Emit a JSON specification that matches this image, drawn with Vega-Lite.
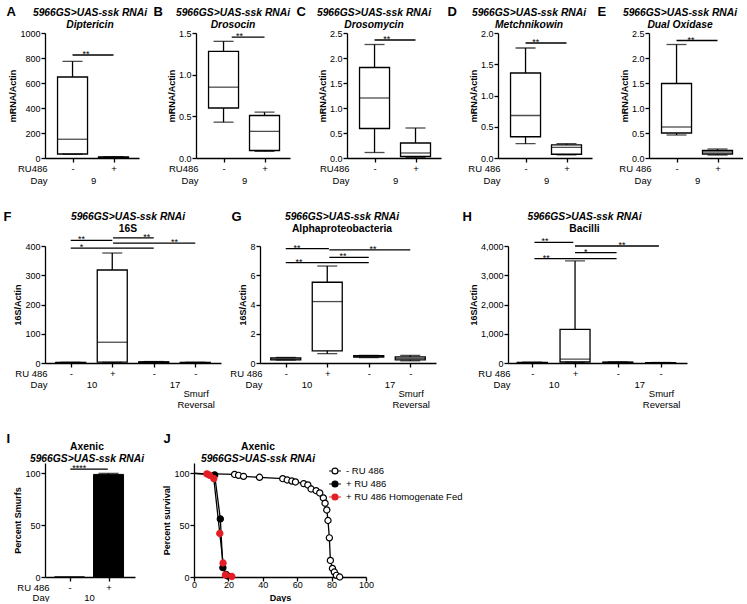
{
"$schema": "https://vega.github.io/schema/vega-lite/v6.json",
"background": "white",
"padding": {"left": 3, "top": 5, "right": 0, "bottom": 0},
"config": {
 "view": {"stroke": null},
 "font": "Liberation Sans",
 "axis": {"grid": false, "domainColor": "black", "domainWidth": 1.3, "tickColor": "black", "tickWidth": 1.3, "tickSize": 4, "labelColor": "black", "labelFont": "Liberation Sans", "labelFontSize": 9, "labelPadding": 1, "titleColor": "black", "titleFont": "Liberation Sans", "titleFontSize": 9, "titleFontWeight": "bold", "titlePadding": 2, "tickCount": 50, "labelOverlap": false},
 "title": {"font": "Liberation Sans", "fontSize": 10.3, "fontWeight": "bold", "fontStyle": "italic", "color": "black", "subtitleFont": "Liberation Sans", "subtitleFontSize": 10.3, "subtitleFontWeight": "bold", "subtitleFontStyle": "italic", "subtitleColor": "black", "subtitlePadding": 1, "frame": "group", "anchor": "middle"},
 "text": {"font": "Liberation Sans", "color": "black"}
},
"datasets": {
 "box": [
  {"p":"A","g":1,"lo":30,"q1":32,"md":150,"q3":648,"hi":773},
  {"p":"A","g":2,"lo":1,"q1":2,"md":4,"q3":8,"hi":11},
  {"p":"B","g":1,"lo":0.43,"q1":0.6,"md":0.85,"q3":1.28,"hi":1.4},
  {"p":"B","g":2,"lo":0.08,"q1":0.09,"md":0.32,"q3":0.51,"hi":0.55},
  {"p":"C","g":1,"lo":0.11,"q1":0.59,"md":1.2,"q3":1.81,"hi":2.27},
  {"p":"C","g":2,"lo":0.01,"q1":0.03,"md":0.1,"q3":0.3,"hi":0.6},
  {"p":"D","g":1,"lo":0.23,"q1":0.34,"md":0.68,"q3":1.36,"hi":1.76},
  {"p":"D","g":2,"lo":0.05,"q1":0.06,"md":0.17,"q3":0.21,"hi":0.23},
  {"p":"E","g":1,"lo":0.46,"q1":0.5,"md":0.62,"q3":1.49,"hi":2.27},
  {"p":"E","g":2,"lo":0.06,"q1":0.08,"md":0.12,"q3":0.15,"hi":0.18},
  {"p":"F","g":1,"lo":0.5,"q1":1,"md":1.5,"q3":2,"hi":2.5},
  {"p":"F","g":2,"lo":2,"q1":3,"md":71,"q3":318,"hi":376},
  {"p":"F","g":3,"lo":1,"q1":2,"md":3,"q3":4,"hi":5},
  {"p":"F","g":4,"lo":0.5,"q1":1,"md":1.5,"q3":2,"hi":2.5},
  {"p":"G","g":1,"lo":0.2,"q1":0.22,"md":0.28,"q3":0.35,"hi":0.38},
  {"p":"G","g":2,"lo":0.64,"q1":0.83,"md":4.2,"q3":5.52,"hi":6.63},
  {"p":"G","g":3,"lo":0.37,"q1":0.4,"md":0.45,"q3":0.5,"hi":0.52},
  {"p":"G","g":4,"lo":0.15,"q1":0.22,"md":0.32,"q3":0.42,"hi":0.52},
  {"p":"H","g":1,"lo":5,"q1":8,"md":12,"q3":18,"hi":25},
  {"p":"H","g":2,"lo":20,"q1":35,"md":130,"q3":1150,"hi":3490},
  {"p":"H","g":3,"lo":10,"q1":15,"md":22,"q3":30,"hi":40},
  {"p":"H","g":4,"lo":3,"q1":5,"md":8,"q3":12,"hi":18}
 ],
 "sig": [
  {"p":"A","x1":1,"x2":2,"y":824,"lx":1.33,"s":"**"},
  {"p":"B","x1":1.2,"x2":2,"y":1.45,"lx":1.39,"s":"**"},
  {"p":"C","x1":1,"x2":2,"y":2.36,"lx":1.3,"s":"**"},
  {"p":"D","x1":1,"x2":2,"y":1.84,"lx":1.25,"s":"**"},
  {"p":"E","x1":1,"x2":2,"y":2.35,"lx":1.35,"s":"**"},
  {"p":"F","x1":1,"x2":2,"y":419,"lx":1.26,"s":"**"},
  {"p":"F","x1":2.02,"x2":3,"y":428,"lx":2.83,"s":"**"},
  {"p":"F","x1":2.02,"x2":4,"y":410,"lx":3.5,"s":"**"},
  {"p":"F","x1":1,"x2":3,"y":393,"lx":1.26,"s":"*"},
  {"p":"G","x1":1,"x2":2.04,"y":7.82,"lx":1.27,"s":"**"},
  {"p":"G","x1":2.05,"x2":4,"y":7.73,"lx":3.1,"s":"**"},
  {"p":"G","x1":2.05,"x2":3,"y":7.22,"lx":2.38,"s":"**"},
  {"p":"G","x1":1,"x2":3,"y":6.86,"lx":1.32,"s":"**"},
  {"p":"H","x1":1.05,"x2":1.96,"y":4125,"lx":1.3,"s":"**"},
  {"p":"H","x1":2,"x2":3.96,"y":4000,"lx":3.1,"s":"**"},
  {"p":"H","x1":2,"x2":2.97,"y":3773,"lx":2.25,"s":"*"},
  {"p":"H","x1":1.05,"x2":2.97,"y":3568,"lx":1.33,"s":"**"},
  {"p":"I","x1":1.02,"x2":1.98,"y":104,"lx":1.25,"s":"****"}
 ],
 "smurf": [
  {"g":1,"v":0,"lo":0,"hi":0},
  {"g":2,"v":99,"lo":98.6,"hi":100}
 ],
 "surv": [
  {"s":"- RU 486","d":0,"v":100},{"s":"- RU 486","d":23.6,"v":99},{"s":"- RU 486","d":25.9,"v":98.1},{"s":"- RU 486","d":28.8,"v":97.1},{"s":"- RU 486","d":38.1,"v":96.2},{"s":"- RU 486","d":51.6,"v":94.9},{"s":"- RU 486","d":54.2,"v":93.6},{"s":"- RU 486","d":56.9,"v":92.6},{"s":"- RU 486","d":59,"v":91.7},{"s":"- RU 486","d":63.8,"v":90.1},{"s":"- RU 486","d":66.2,"v":88.8},{"s":"- RU 486","d":68.1,"v":84.9},{"s":"- RU 486","d":71,"v":83.3},{"s":"- RU 486","d":73.1,"v":81.1},{"s":"- RU 486","d":75.2,"v":76.3},{"s":"- RU 486","d":76.2,"v":71.2},{"s":"- RU 486","d":77.2,"v":64.7},{"s":"- RU 486","d":77.9,"v":54.5},{"s":"- RU 486","d":78.7,"v":37.8},{"s":"- RU 486","d":79.3,"v":16},{"s":"- RU 486","d":80.5,"v":8.3},{"s":"- RU 486","d":81.6,"v":4.8},{"s":"- RU 486","d":82.8,"v":1.6},{"s":"- RU 486","d":84.7,"v":0},
  {"s":"+ RU 486","d":0,"v":100},{"s":"+ RU 486","d":12,"v":98.5},{"s":"+ RU 486","d":15.3,"v":56},{"s":"+ RU 486","d":16.8,"v":9},{"s":"+ RU 486","d":18.6,"v":2.5},{"s":"+ RU 486","d":19.5,"v":1},
  {"s":"+ RU 486 Homogenate Fed","d":0,"v":100},{"s":"+ RU 486 Homogenate Fed","d":7.5,"v":99.5},{"s":"+ RU 486 Homogenate Fed","d":9,"v":98.2},{"s":"+ RU 486 Homogenate Fed","d":11.5,"v":95},{"s":"+ RU 486 Homogenate Fed","d":15,"v":42},{"s":"+ RU 486 Homogenate Fed","d":16.9,"v":13.5},{"s":"+ RU 486 Homogenate Fed","d":18.3,"v":2},{"s":"+ RU 486 Homogenate Fed","d":22,"v":0.5}
 ]
},
"vconcat": [
 {"hconcat": [
  {"width": 94, "height": 125,
   "title": {"text": "5966GS>UAS-ssk RNAi", "subtitle": "Diptericin", "offset": -25, "dx": -2},
   "layer": [
    {"data": {"name": "box"}, "transform": [{"filter": "datum.p == 'A'"}], "mark": {"type": "rule", "color": "black", "strokeWidth": 1.3},
     "encoding": {"x": {"field": "g", "type": "quantitative", "scale": {"domain": [0.45, 2.5], "nice": false, "zero": false},
       "axis": {"values": [0.45, 1, 1.5, 2], "tickCount": 50, "labelExpr": "datum.value < 0.6 ? ['RU486','Day'] : datum.value == 1 ? ['-',''] : datum.value == 2 ? ['+',''] : ['','9']", "labelAlign": {"condition": {"test": "datum.value < 0.6", "value": "right"}, "value": "center"}, "labelOffset": {"condition": {"test": "datum.value < 0.6", "value": -3}, "value": 0}, "tickOpacity": {"condition": {"test": "datum.value == 1 || datum.value == 2", "value": 1}, "value": 0}, "labelOverlap": false, "labelBound": false, "labelFlush": false, "labelPadding": 1, "labelFontSize": 9.5, "labelLineHeight": 12.5, "title": "A", "titleX": -39, "titleY": -143, "titleAlign": "left", "titleBaseline": "alphabetic", "titleAngle": 0, "titleFontSize": 13}},
      "y": {"field": "lo", "type": "quantitative", "scale": {"domain": [0, 1000], "nice": false}, "axis": {"values": [0, 200, 400, 600, 800, 1000], "tickCount": 50, "labelOverlap": false, "format": "d", "title": "mRNA/Actin"}},
      "y2": {"field": "hi"}}},
    {"data": {"name": "box"}, "transform": [{"filter": "datum.p == 'A'"}], "mark": {"type": "bar", "size": 30, "fill": "white", "stroke": "black", "strokeWidth": 1.3},
     "encoding": {"x": {"field": "g", "type": "quantitative"}, "y": {"field": "q1", "type": "quantitative"}, "y2": {"field": "q3"}}},
    {"data": {"name": "box"}, "transform": [{"filter": "datum.p == 'A'"}], "mark": {"type": "tick", "orient": "horizontal", "size": 30, "thickness": 1.3, "color": "black"},
     "encoding": {"x": {"field": "g", "type": "quantitative"}, "y": {"field": "md", "type": "quantitative"}}},
    {"data": {"name": "box"}, "transform": [{"filter": "datum.p == 'A'"}], "mark": {"type": "tick", "orient": "horizontal", "size": 20, "thickness": 1.3, "color": "black"},
     "encoding": {"x": {"field": "g", "type": "quantitative"}, "y": {"field": "lo", "type": "quantitative"}}},
    {"data": {"name": "box"}, "transform": [{"filter": "datum.p == 'A'"}], "mark": {"type": "tick", "orient": "horizontal", "size": 20, "thickness": 1.3, "color": "black"},
     "encoding": {"x": {"field": "g", "type": "quantitative"}, "y": {"field": "hi", "type": "quantitative"}}},
    {"data": {"name": "sig"}, "transform": [{"filter": "datum.p == 'A'"}], "mark": {"type": "rule", "color": "black", "strokeWidth": 1.3},
     "encoding": {"x": {"field": "x1", "type": "quantitative"}, "x2": {"field": "x2"}, "y": {"field": "y", "type": "quantitative"}}},
    {"data": {"name": "sig"}, "transform": [{"filter": "datum.p == 'A'"}], "mark": {"type": "text", "fontSize": 9, "baseline": "alphabetic", "dy": 2, "color": "black"},
     "encoding": {"x": {"field": "lx", "type": "quantitative"}, "y": {"field": "y", "type": "quantitative"}, "text": {"field": "s"}}}
   ]},
  {"width": 94, "height": 125,
   "title": {"text": "5966GS>UAS-ssk RNAi", "subtitle": "Drosocin", "offset": -25, "dx": -10},
   "layer": [
    {"data": {"name": "box"}, "transform": [{"filter": "datum.p == 'B'"}], "mark": {"type": "rule", "color": "black", "strokeWidth": 1.3},
     "encoding": {"x": {"field": "g", "type": "quantitative", "scale": {"domain": [0.45, 2.5], "nice": false, "zero": false},
       "axis": {"values": [0.45, 1, 1.5, 2], "tickCount": 50, "labelExpr": "datum.value < 0.6 ? ['RU486','Day'] : datum.value == 1 ? ['-',''] : datum.value == 2 ? ['+',''] : ['','9']", "labelAlign": {"condition": {"test": "datum.value < 0.6", "value": "right"}, "value": "center"}, "labelOffset": {"condition": {"test": "datum.value < 0.6", "value": -3}, "value": 0}, "tickOpacity": {"condition": {"test": "datum.value == 1 || datum.value == 2", "value": 1}, "value": 0}, "labelOverlap": false, "labelBound": false, "labelFlush": false, "labelPadding": 1, "labelFontSize": 9.5, "labelLineHeight": 12.5, "title": "B", "titleX": -43, "titleY": -143, "titleAlign": "left", "titleBaseline": "alphabetic", "titleAngle": 0, "titleFontSize": 13}},
      "y": {"field": "lo", "type": "quantitative", "scale": {"domain": [0, 1.5], "nice": false}, "axis": {"values": [0, 0.5, 1, 1.5], "tickCount": 50, "labelOverlap": false, "format": ".1f", "title": "mRNA/Actin"}},
      "y2": {"field": "hi"}}},
    {"data": {"name": "box"}, "transform": [{"filter": "datum.p == 'B'"}], "mark": {"type": "bar", "size": 30, "fill": "white", "stroke": "black", "strokeWidth": 1.3},
     "encoding": {"x": {"field": "g", "type": "quantitative"}, "y": {"field": "q1", "type": "quantitative"}, "y2": {"field": "q3"}}},
    {"data": {"name": "box"}, "transform": [{"filter": "datum.p == 'B'"}], "mark": {"type": "tick", "orient": "horizontal", "size": 30, "thickness": 1.3, "color": "black"},
     "encoding": {"x": {"field": "g", "type": "quantitative"}, "y": {"field": "md", "type": "quantitative"}}},
    {"data": {"name": "box"}, "transform": [{"filter": "datum.p == 'B'"}], "mark": {"type": "tick", "orient": "horizontal", "size": 20, "thickness": 1.3, "color": "black"},
     "encoding": {"x": {"field": "g", "type": "quantitative"}, "y": {"field": "lo", "type": "quantitative"}}},
    {"data": {"name": "box"}, "transform": [{"filter": "datum.p == 'B'"}], "mark": {"type": "tick", "orient": "horizontal", "size": 20, "thickness": 1.3, "color": "black"},
     "encoding": {"x": {"field": "g", "type": "quantitative"}, "y": {"field": "hi", "type": "quantitative"}}},
    {"data": {"name": "sig"}, "transform": [{"filter": "datum.p == 'B'"}], "mark": {"type": "rule", "color": "black", "strokeWidth": 1.3},
     "encoding": {"x": {"field": "x1", "type": "quantitative"}, "x2": {"field": "x2"}, "y": {"field": "y", "type": "quantitative"}}},
    {"data": {"name": "sig"}, "transform": [{"filter": "datum.p == 'B'"}], "mark": {"type": "text", "fontSize": 9, "baseline": "alphabetic", "dy": 2, "color": "black"},
     "encoding": {"x": {"field": "lx", "type": "quantitative"}, "y": {"field": "y", "type": "quantitative"}, "text": {"field": "s"}}}
   ]},
  {"width": 94, "height": 125,
   "title": {"text": "5966GS>UAS-ssk RNAi", "subtitle": "Drosomycin", "offset": -25, "dx": -20},
   "layer": [
    {"data": {"name": "box"}, "transform": [{"filter": "datum.p == 'C'"}], "mark": {"type": "rule", "color": "black", "strokeWidth": 1.3},
     "encoding": {"x": {"field": "g", "type": "quantitative", "scale": {"domain": [0.45, 2.5], "nice": false, "zero": false},
       "axis": {"values": [0.45, 1, 1.5, 2], "tickCount": 50, "labelExpr": "datum.value < 0.6 ? ['RU486','Day'] : datum.value == 1 ? ['-',''] : datum.value == 2 ? ['+',''] : ['','9']", "labelAlign": {"condition": {"test": "datum.value < 0.6", "value": "right"}, "value": "center"}, "labelOffset": {"condition": {"test": "datum.value < 0.6", "value": -3}, "value": 0}, "tickOpacity": {"condition": {"test": "datum.value == 1 || datum.value == 2", "value": 1}, "value": 0}, "labelOverlap": false, "labelBound": false, "labelFlush": false, "labelPadding": 1, "labelFontSize": 9.5, "labelLineHeight": 12.5, "title": "C", "titleX": -51, "titleY": -143, "titleAlign": "left", "titleBaseline": "alphabetic", "titleAngle": 0, "titleFontSize": 13}},
      "y": {"field": "lo", "type": "quantitative", "scale": {"domain": [0, 2.5], "nice": false}, "axis": {"values": [0, 0.5, 1, 1.5, 2, 2.5], "tickCount": 50, "labelOverlap": false, "format": ".1f", "title": "mRNA/Actin"}},
      "y2": {"field": "hi"}}},
    {"data": {"name": "box"}, "transform": [{"filter": "datum.p == 'C'"}], "mark": {"type": "bar", "size": 30, "fill": "white", "stroke": "black", "strokeWidth": 1.3},
     "encoding": {"x": {"field": "g", "type": "quantitative"}, "y": {"field": "q1", "type": "quantitative"}, "y2": {"field": "q3"}}},
    {"data": {"name": "box"}, "transform": [{"filter": "datum.p == 'C'"}], "mark": {"type": "tick", "orient": "horizontal", "size": 30, "thickness": 1.3, "color": "black"},
     "encoding": {"x": {"field": "g", "type": "quantitative"}, "y": {"field": "md", "type": "quantitative"}}},
    {"data": {"name": "box"}, "transform": [{"filter": "datum.p == 'C'"}], "mark": {"type": "tick", "orient": "horizontal", "size": 20, "thickness": 1.3, "color": "black"},
     "encoding": {"x": {"field": "g", "type": "quantitative"}, "y": {"field": "lo", "type": "quantitative"}}},
    {"data": {"name": "box"}, "transform": [{"filter": "datum.p == 'C'"}], "mark": {"type": "tick", "orient": "horizontal", "size": 20, "thickness": 1.3, "color": "black"},
     "encoding": {"x": {"field": "g", "type": "quantitative"}, "y": {"field": "hi", "type": "quantitative"}}},
    {"data": {"name": "sig"}, "transform": [{"filter": "datum.p == 'C'"}], "mark": {"type": "rule", "color": "black", "strokeWidth": 1.3},
     "encoding": {"x": {"field": "x1", "type": "quantitative"}, "x2": {"field": "x2"}, "y": {"field": "y", "type": "quantitative"}}},
    {"data": {"name": "sig"}, "transform": [{"filter": "datum.p == 'C'"}], "mark": {"type": "text", "fontSize": 9, "baseline": "alphabetic", "dy": 2, "color": "black"},
     "encoding": {"x": {"field": "lx", "type": "quantitative"}, "y": {"field": "y", "type": "quantitative"}, "text": {"field": "s"}}}
   ]},
  {"width": 94, "height": 125,
   "title": {"text": "5966GS>UAS-ssk RNAi", "subtitle": "Metchnikowin", "offset": -25, "dx": -16},
   "layer": [
    {"data": {"name": "box"}, "transform": [{"filter": "datum.p == 'D'"}], "mark": {"type": "rule", "color": "black", "strokeWidth": 1.3},
     "encoding": {"x": {"field": "g", "type": "quantitative", "scale": {"domain": [0.45, 2.5], "nice": false, "zero": false},
       "axis": {"values": [0.45, 1, 1.5, 2], "tickCount": 50, "labelExpr": "datum.value < 0.6 ? ['RU 486','Day'] : datum.value == 1 ? ['-',''] : datum.value == 2 ? ['+',''] : ['','9']", "labelAlign": {"condition": {"test": "datum.value < 0.6", "value": "right"}, "value": "center"}, "labelOffset": {"condition": {"test": "datum.value < 0.6", "value": -3}, "value": 0}, "tickOpacity": {"condition": {"test": "datum.value == 1 || datum.value == 2", "value": 1}, "value": 0}, "labelOverlap": false, "labelBound": false, "labelFlush": false, "labelPadding": 1, "labelFontSize": 9.5, "labelLineHeight": 12.5, "title": "D", "titleX": -51, "titleY": -143, "titleAlign": "left", "titleBaseline": "alphabetic", "titleAngle": 0, "titleFontSize": 13}},
      "y": {"field": "lo", "type": "quantitative", "scale": {"domain": [0, 2], "nice": false}, "axis": {"values": [0, 0.5, 1, 1.5, 2], "tickCount": 50, "labelOverlap": false, "format": ".1f", "title": "mRNA/Actin"}},
      "y2": {"field": "hi"}}},
    {"data": {"name": "box"}, "transform": [{"filter": "datum.p == 'D'"}], "mark": {"type": "bar", "size": 30, "fill": "white", "stroke": "black", "strokeWidth": 1.3},
     "encoding": {"x": {"field": "g", "type": "quantitative"}, "y": {"field": "q1", "type": "quantitative"}, "y2": {"field": "q3"}}},
    {"data": {"name": "box"}, "transform": [{"filter": "datum.p == 'D'"}], "mark": {"type": "tick", "orient": "horizontal", "size": 30, "thickness": 1.3, "color": "black"},
     "encoding": {"x": {"field": "g", "type": "quantitative"}, "y": {"field": "md", "type": "quantitative"}}},
    {"data": {"name": "box"}, "transform": [{"filter": "datum.p == 'D'"}], "mark": {"type": "tick", "orient": "horizontal", "size": 20, "thickness": 1.3, "color": "black"},
     "encoding": {"x": {"field": "g", "type": "quantitative"}, "y": {"field": "lo", "type": "quantitative"}}},
    {"data": {"name": "box"}, "transform": [{"filter": "datum.p == 'D'"}], "mark": {"type": "tick", "orient": "horizontal", "size": 20, "thickness": 1.3, "color": "black"},
     "encoding": {"x": {"field": "g", "type": "quantitative"}, "y": {"field": "hi", "type": "quantitative"}}},
    {"data": {"name": "sig"}, "transform": [{"filter": "datum.p == 'D'"}], "mark": {"type": "rule", "color": "black", "strokeWidth": 1.3},
     "encoding": {"x": {"field": "x1", "type": "quantitative"}, "x2": {"field": "x2"}, "y": {"field": "y", "type": "quantitative"}}},
    {"data": {"name": "sig"}, "transform": [{"filter": "datum.p == 'D'"}], "mark": {"type": "text", "fontSize": 9, "baseline": "alphabetic", "dy": 2, "color": "black"},
     "encoding": {"x": {"field": "lx", "type": "quantitative"}, "y": {"field": "y", "type": "quantitative"}, "text": {"field": "s"}}}
   ]},
  {"width": 94, "height": 125,
   "title": {"text": "5966GS>UAS-ssk RNAi", "subtitle": "Dual Oxidase", "offset": -25, "dx": -16},
   "layer": [
    {"data": {"name": "box"}, "transform": [{"filter": "datum.p == 'E'"}], "mark": {"type": "rule", "color": "black", "strokeWidth": 1.3},
     "encoding": {"x": {"field": "g", "type": "quantitative", "scale": {"domain": [0.45, 2.5], "nice": false, "zero": false},
       "axis": {"values": [0.45, 1, 1.5, 2], "tickCount": 50, "labelExpr": "datum.value < 0.6 ? ['RU 486','Day'] : datum.value == 1 ? ['-',''] : datum.value == 2 ? ['+',''] : ['','9']", "labelAlign": {"condition": {"test": "datum.value < 0.6", "value": "right"}, "value": "center"}, "labelOffset": {"condition": {"test": "datum.value < 0.6", "value": -3}, "value": 0}, "tickOpacity": {"condition": {"test": "datum.value == 1 || datum.value == 2", "value": 1}, "value": 0}, "labelOverlap": false, "labelBound": false, "labelFlush": false, "labelPadding": 1, "labelFontSize": 9.5, "labelLineHeight": 12.5, "title": "E", "titleX": -52, "titleY": -143, "titleAlign": "left", "titleBaseline": "alphabetic", "titleAngle": 0, "titleFontSize": 13}},
      "y": {"field": "lo", "type": "quantitative", "scale": {"domain": [0, 2.5], "nice": false}, "axis": {"values": [0, 0.5, 1, 1.5, 2, 2.5], "tickCount": 50, "labelOverlap": false, "format": ".1f", "title": "mRNA/Actin"}},
      "y2": {"field": "hi"}}},
    {"data": {"name": "box"}, "transform": [{"filter": "datum.p == 'E'"}], "mark": {"type": "bar", "size": 30, "fill": "white", "stroke": "black", "strokeWidth": 1.3},
     "encoding": {"x": {"field": "g", "type": "quantitative"}, "y": {"field": "q1", "type": "quantitative"}, "y2": {"field": "q3"}}},
    {"data": {"name": "box"}, "transform": [{"filter": "datum.p == 'E'"}], "mark": {"type": "tick", "orient": "horizontal", "size": 30, "thickness": 1.3, "color": "black"},
     "encoding": {"x": {"field": "g", "type": "quantitative"}, "y": {"field": "md", "type": "quantitative"}}},
    {"data": {"name": "box"}, "transform": [{"filter": "datum.p == 'E'"}], "mark": {"type": "tick", "orient": "horizontal", "size": 20, "thickness": 1.3, "color": "black"},
     "encoding": {"x": {"field": "g", "type": "quantitative"}, "y": {"field": "lo", "type": "quantitative"}}},
    {"data": {"name": "box"}, "transform": [{"filter": "datum.p == 'E'"}], "mark": {"type": "tick", "orient": "horizontal", "size": 20, "thickness": 1.3, "color": "black"},
     "encoding": {"x": {"field": "g", "type": "quantitative"}, "y": {"field": "hi", "type": "quantitative"}}},
    {"data": {"name": "sig"}, "transform": [{"filter": "datum.p == 'E'"}], "mark": {"type": "rule", "color": "black", "strokeWidth": 1.3},
     "encoding": {"x": {"field": "x1", "type": "quantitative"}, "x2": {"field": "x2"}, "y": {"field": "y", "type": "quantitative"}}},
    {"data": {"name": "sig"}, "transform": [{"filter": "datum.p == 'E'"}], "mark": {"type": "text", "fontSize": 9, "baseline": "alphabetic", "dy": 2, "color": "black"},
     "encoding": {"x": {"field": "lx", "type": "quantitative"}, "y": {"field": "y", "type": "quantitative"}, "text": {"field": "s"}}}
   ]}
 ], "spacing": 57, "bounds": "flush"},
 {"vconcat": [
 {"hconcat": [
  {"width": 176, "height": 117,
   "title": {"text": "5966GS>UAS-ssk RNAi", "subtitle": "16S", "subtitleFontStyle": "normal", "offset": -24, "dx": -5},
   "layer": [
    {"data": {"name": "box"}, "transform": [{"filter": "datum.p == 'F'"}], "mark": {"type": "rule", "color": "black", "strokeWidth": 1.3},
     "encoding": {"x": {"field": "g", "type": "quantitative", "scale": {"domain": [0.5, 4.5], "nice": false, "zero": false},
       "axis": {"values": [0.5, 1, 1.5, 2, 3, 3.5, 4, 4.01], "tickCount": 50, "labelExpr": "datum.value < 0.6 ? ['RU 486','Day'] : datum.value == 1.5 ? ['','10'] : datum.value == 3.5 ? ['','17'] : datum.value == 2 ? '+' : datum.value > 4 ? ['Smurf','Reversal'] : '-'", "labelAlign": {"condition": {"test": "datum.value < 0.6", "value": "right"}, "value": "center"}, "labelOffset": {"condition": {"test": "datum.value < 0.6", "value": -3}, "value": 0}, "labelPadding": {"condition": {"test": "datum.value > 4", "value": 21}, "value": 1}, "tickOpacity": {"condition": {"test": "datum.value == 1 || datum.value == 2 || datum.value == 3 || datum.value == 4", "value": 1}, "value": 0}, "labelOverlap": false, "labelBound": false, "labelFlush": false, "labelFontSize": 9.5, "labelLineHeight": 11, "title": "F", "titleX": -42, "titleY": -143, "titleAlign": "left", "titleBaseline": "alphabetic", "titleAngle": 0, "titleFontSize": 13}},
      "y": {"field": "lo", "type": "quantitative", "scale": {"domain": [0, 400], "nice": false}, "axis": {"values": [0, 100, 200, 300, 400], "tickCount": 50, "labelOverlap": false, "format": "d", "title": "16S/Actin"}},
      "y2": {"field": "hi"}}},
    {"data": {"name": "box"}, "transform": [{"filter": "datum.p == 'F'"}], "mark": {"type": "bar", "size": 30, "fill": "white", "stroke": "black", "strokeWidth": 1.3},
     "encoding": {"x": {"field": "g", "type": "quantitative"}, "y": {"field": "q1", "type": "quantitative"}, "y2": {"field": "q3"}}},
    {"data": {"name": "box"}, "transform": [{"filter": "datum.p == 'F'"}], "mark": {"type": "tick", "orient": "horizontal", "size": 30, "thickness": 1.3, "color": "black"},
     "encoding": {"x": {"field": "g", "type": "quantitative"}, "y": {"field": "md", "type": "quantitative"}}},
    {"data": {"name": "box"}, "transform": [{"filter": "datum.p == 'F'"}], "mark": {"type": "tick", "orient": "horizontal", "size": 20, "thickness": 1.3, "color": "black"},
     "encoding": {"x": {"field": "g", "type": "quantitative"}, "y": {"field": "lo", "type": "quantitative"}}},
    {"data": {"name": "box"}, "transform": [{"filter": "datum.p == 'F'"}], "mark": {"type": "tick", "orient": "horizontal", "size": 20, "thickness": 1.3, "color": "black"},
     "encoding": {"x": {"field": "g", "type": "quantitative"}, "y": {"field": "hi", "type": "quantitative"}}},
    {"data": {"name": "sig"}, "transform": [{"filter": "datum.p == 'F'"}], "mark": {"type": "rule", "color": "black", "strokeWidth": 1.3},
     "encoding": {"x": {"field": "x1", "type": "quantitative"}, "x2": {"field": "x2"}, "y": {"field": "y", "type": "quantitative"}}},
    {"data": {"name": "sig"}, "transform": [{"filter": "datum.p == 'F'"}], "mark": {"type": "text", "fontSize": 9, "baseline": "alphabetic", "dy": 2, "color": "black"},
     "encoding": {"x": {"field": "lx", "type": "quantitative"}, "y": {"field": "y", "type": "quantitative"}, "text": {"field": "s"}}}
   ]},
  {"width": 1, "height": 117, "data": {"values": [{"a": 1}]}, "mark": {"type": "point", "opacity": 0}, "encoding": {}},
  {"width": 176, "height": 117,
   "title": {"text": "5966GS>UAS-ssk RNAi", "subtitle": "Alphaproteobacteria", "subtitleFontStyle": "normal", "offset": -24, "dx": -6},
   "layer": [
    {"data": {"name": "box"}, "transform": [{"filter": "datum.p == 'G'"}], "mark": {"type": "rule", "color": "black", "strokeWidth": 1.3},
     "encoding": {"x": {"field": "g", "type": "quantitative", "scale": {"domain": [0.5, 4.5], "nice": false, "zero": false},
       "axis": {"values": [0.5, 1, 1.5, 2, 3, 3.5, 4, 4.01], "tickCount": 50, "labelExpr": "datum.value < 0.6 ? ['RU 486','Day'] : datum.value == 1.5 ? ['','10'] : datum.value == 3.5 ? ['','17'] : datum.value == 2 ? '+' : datum.value > 4 ? ['Smurf','Reversal'] : '-'", "labelAlign": {"condition": {"test": "datum.value < 0.6", "value": "right"}, "value": "center"}, "labelOffset": {"condition": {"test": "datum.value < 0.6", "value": -3}, "value": 0}, "labelPadding": {"condition": {"test": "datum.value > 4", "value": 21}, "value": 1}, "tickOpacity": {"condition": {"test": "datum.value == 1 || datum.value == 2 || datum.value == 3 || datum.value == 4", "value": 1}, "value": 0}, "labelOverlap": false, "labelBound": false, "labelFlush": false, "labelFontSize": 9.5, "labelLineHeight": 11, "title": "G", "titleX": -29, "titleY": -143, "titleAlign": "left", "titleBaseline": "alphabetic", "titleAngle": 0, "titleFontSize": 13}},
      "y": {"field": "lo", "type": "quantitative", "scale": {"domain": [0, 8], "nice": false}, "axis": {"values": [0, 2, 4, 6, 8], "tickCount": 50, "labelOverlap": false, "format": "d", "title": "16S/Actin"}},
      "y2": {"field": "hi"}}},
    {"data": {"name": "box"}, "transform": [{"filter": "datum.p == 'G'"}], "mark": {"type": "bar", "size": 30, "fill": "white", "stroke": "black", "strokeWidth": 1.3},
     "encoding": {"x": {"field": "g", "type": "quantitative"}, "y": {"field": "q1", "type": "quantitative"}, "y2": {"field": "q3"}}},
    {"data": {"name": "box"}, "transform": [{"filter": "datum.p == 'G'"}], "mark": {"type": "tick", "orient": "horizontal", "size": 30, "thickness": 1.3, "color": "black"},
     "encoding": {"x": {"field": "g", "type": "quantitative"}, "y": {"field": "md", "type": "quantitative"}}},
    {"data": {"name": "box"}, "transform": [{"filter": "datum.p == 'G'"}], "mark": {"type": "tick", "orient": "horizontal", "size": 20, "thickness": 1.3, "color": "black"},
     "encoding": {"x": {"field": "g", "type": "quantitative"}, "y": {"field": "lo", "type": "quantitative"}}},
    {"data": {"name": "box"}, "transform": [{"filter": "datum.p == 'G'"}], "mark": {"type": "tick", "orient": "horizontal", "size": 20, "thickness": 1.3, "color": "black"},
     "encoding": {"x": {"field": "g", "type": "quantitative"}, "y": {"field": "hi", "type": "quantitative"}}},
    {"data": {"name": "sig"}, "transform": [{"filter": "datum.p == 'G'"}], "mark": {"type": "rule", "color": "black", "strokeWidth": 1.3},
     "encoding": {"x": {"field": "x1", "type": "quantitative"}, "x2": {"field": "x2"}, "y": {"field": "y", "type": "quantitative"}}},
    {"data": {"name": "sig"}, "transform": [{"filter": "datum.p == 'G'"}], "mark": {"type": "text", "fontSize": 9, "baseline": "alphabetic", "dy": 2, "color": "black"},
     "encoding": {"x": {"field": "lx", "type": "quantitative"}, "y": {"field": "y", "type": "quantitative"}, "text": {"field": "s"}}}
   ]},
  {"width": 34, "height": 117, "data": {"values": [{"a": 1}]}, "mark": {"type": "point", "opacity": 0}, "encoding": {}},
  {"width": 179, "height": 117,
   "title": {"text": "5966GS>UAS-ssk RNAi", "subtitle": "Bacilli", "subtitleFontStyle": "normal", "offset": -24, "dx": -13},
   "layer": [
    {"data": {"name": "box"}, "transform": [{"filter": "datum.p == 'H'"}], "mark": {"type": "rule", "color": "black", "strokeWidth": 1.3},
     "encoding": {"x": {"field": "g", "type": "quantitative", "scale": {"domain": [0.55, 4.5], "nice": false, "zero": false},
       "axis": {"values": [0.55, 1, 1.5, 2, 3, 3.5, 4, 4.01], "tickCount": 50, "labelExpr": "datum.value < 0.6 ? ['RU 486','Day'] : datum.value == 1.5 ? ['','10'] : datum.value == 3.5 ? ['','17'] : datum.value == 2 ? '+' : datum.value > 4 ? ['Smurf','Reversal'] : '-'", "labelAlign": {"condition": {"test": "datum.value < 0.6", "value": "right"}, "value": "center"}, "labelOffset": {"condition": {"test": "datum.value < 0.6", "value": -3}, "value": 0}, "labelPadding": {"condition": {"test": "datum.value > 4", "value": 21}, "value": 1}, "tickOpacity": {"condition": {"test": "datum.value == 1 || datum.value == 2 || datum.value == 3 || datum.value == 4", "value": 1}, "value": 0}, "labelOverlap": false, "labelBound": false, "labelFlush": false, "labelFontSize": 9.5, "labelLineHeight": 11, "title": "H", "titleX": -46, "titleY": -143, "titleAlign": "left", "titleBaseline": "alphabetic", "titleAngle": 0, "titleFontSize": 13}},
      "y": {"field": "lo", "type": "quantitative", "scale": {"domain": [0, 4000], "nice": false}, "axis": {"values": [0, 1000, 2000, 3000, 4000], "tickCount": 50, "labelOverlap": false, "format": ",.0f", "title": "16S/Actin"}},
      "y2": {"field": "hi"}}},
    {"data": {"name": "box"}, "transform": [{"filter": "datum.p == 'H'"}], "mark": {"type": "bar", "size": 30, "fill": "white", "stroke": "black", "strokeWidth": 1.3},
     "encoding": {"x": {"field": "g", "type": "quantitative"}, "y": {"field": "q1", "type": "quantitative"}, "y2": {"field": "q3"}}},
    {"data": {"name": "box"}, "transform": [{"filter": "datum.p == 'H'"}], "mark": {"type": "tick", "orient": "horizontal", "size": 30, "thickness": 1.3, "color": "black"},
     "encoding": {"x": {"field": "g", "type": "quantitative"}, "y": {"field": "md", "type": "quantitative"}}},
    {"data": {"name": "box"}, "transform": [{"filter": "datum.p == 'H'"}], "mark": {"type": "tick", "orient": "horizontal", "size": 20, "thickness": 1.3, "color": "black"},
     "encoding": {"x": {"field": "g", "type": "quantitative"}, "y": {"field": "lo", "type": "quantitative"}}},
    {"data": {"name": "box"}, "transform": [{"filter": "datum.p == 'H'"}], "mark": {"type": "tick", "orient": "horizontal", "size": 20, "thickness": 1.3, "color": "black"},
     "encoding": {"x": {"field": "g", "type": "quantitative"}, "y": {"field": "hi", "type": "quantitative"}}},
    {"data": {"name": "sig"}, "transform": [{"filter": "datum.p == 'H'"}], "mark": {"type": "rule", "color": "black", "strokeWidth": 1.3},
     "encoding": {"x": {"field": "x1", "type": "quantitative"}, "x2": {"field": "x2"}, "y": {"field": "y", "type": "quantitative"}}},
    {"data": {"name": "sig"}, "transform": [{"filter": "datum.p == 'H'"}], "mark": {"type": "text", "fontSize": 9, "baseline": "alphabetic", "dy": 2, "color": "black"},
     "encoding": {"x": {"field": "lx", "type": "quantitative"}, "y": {"field": "y", "type": "quantitative"}, "text": {"field": "s"}}}
   ]}
 ], "spacing": 19, "bounds": "flush"},
 {"hconcat": [
  {"width": 90, "height": 114,
   "title": {"text": "Axenic", "subtitle": "5966GS>UAS-ssk RNAi", "fontStyle": "normal", "offset": -32, "dx": -3},
   "layer": [
    {"data": {"name": "smurf"}, "mark": {"type": "rule", "color": "black", "strokeWidth": 1.3},
     "encoding": {"x": {"field": "g", "type": "quantitative", "scale": {"domain": [0.5, 2.55], "nice": false, "zero": false},
       "axis": {"values": [0.5, 1, 1.5, 2], "tickCount": 50, "labelExpr": "datum.value < 0.6 ? ['RU 486','Day'] : datum.value == 1 ? ['-',''] : datum.value == 2 ? ['+',''] : ['','10']", "labelAlign": {"condition": {"test": "datum.value < 0.6", "value": "right"}, "value": "center"}, "labelOffset": {"condition": {"test": "datum.value < 0.6", "value": -1}, "value": 0}, "tickOpacity": {"condition": {"test": "datum.value == 1 || datum.value == 2", "value": 1}, "value": 0}, "labelOverlap": false, "labelBound": false, "labelFlush": false, "labelPadding": 1, "labelFontSize": 9.5, "labelLineHeight": 10.5, "title": "I", "titleX": -39, "titleY": -135, "titleAlign": "left", "titleBaseline": "alphabetic", "titleAngle": 0, "titleFontSize": 13}},
      "y": {"field": "lo", "type": "quantitative", "scale": {"domain": [0, 110], "nice": false}, "axis": {"values": [0, 50, 100], "tickCount": 50, "labelOverlap": false, "format": "d", "title": "Percent Smurfs"}},
      "y2": {"field": "hi"}}},
    {"data": {"name": "smurf"}, "mark": {"type": "bar", "size": 30, "fill": "black", "stroke": "black", "strokeWidth": 1},
     "encoding": {"x": {"field": "g", "type": "quantitative"}, "y": {"field": "v", "type": "quantitative"}}},
    {"data": {"name": "smurf"}, "transform": [{"filter": "datum.v > 0"}], "mark": {"type": "tick", "orient": "horizontal", "size": 20, "thickness": 1.3, "color": "black"},
     "encoding": {"x": {"field": "g", "type": "quantitative"}, "y": {"field": "hi", "type": "quantitative"}}},
    {"data": {"name": "sig"}, "transform": [{"filter": "datum.p == 'I'"}], "mark": {"type": "rule", "color": "black", "strokeWidth": 1.3},
     "encoding": {"x": {"field": "x1", "type": "quantitative"}, "x2": {"field": "x2"}, "y": {"field": "y", "type": "quantitative"}}},
    {"data": {"name": "sig"}, "transform": [{"filter": "datum.p == 'I'"}], "mark": {"type": "text", "fontSize": 9, "baseline": "alphabetic", "dy": 2, "color": "black"},
     "encoding": {"x": {"field": "lx", "type": "quantitative"}, "y": {"field": "y", "type": "quantitative"}, "text": {"field": "s"}}}
   ]},
  {"width": 172, "height": 114,
   "title": {"text": "Axenic", "subtitle": "5966GS>UAS-ssk RNAi", "fontStyle": "normal", "offset": -32, "dx": -22},
   "data": {"name": "surv"},
   "layer": [
    {"mark": {"type": "line", "color": "black", "strokeWidth": 1.3},
     "encoding": {"x": {"field": "d", "type": "quantitative", "scale": {"domain": [0, 100], "nice": false},
       "axis": {"values": [0, 20, 40, 50, 60, 80, 100], "tickCount": 50, "labelExpr": "datum.value == 50 ? ['', 'Days'] : [datum.label, '']", "labelFontWeight": {"condition": {"test": "datum.value == 50", "value": "bold"}, "value": "normal"}, "tickOpacity": {"condition": {"test": "datum.value == 50", "value": 0}, "value": 1}, "labelOverlap": false, "labelBound": false, "labelFlush": false, "labelPadding": -1, "labelLineHeight": 13, "labelFontSize": 9, "title": "J", "titleX": -31, "titleY": -135, "titleAlign": "left", "titleBaseline": "alphabetic", "titleAngle": 0, "titleFontSize": 13}},
      "y": {"field": "v", "type": "quantitative", "scale": {"domain": [0, 110], "nice": false}, "axis": {"values": [0, 50, 100], "tickCount": 50, "labelOverlap": false, "format": "d", "title": "Percent survival"}},
      "detail": {"field": "s"}}},
    {"transform": [{"filter": "datum.d > 0"}],
     "mark": {"type": "point", "shape": "circle", "size": 38, "strokeWidth": 1.2, "opacity": 1},
     "encoding": {"x": {"field": "d", "type": "quantitative"}, "y": {"field": "v", "type": "quantitative"},
      "fill": {"field": "s", "type": "nominal", "scale": {"domain": ["- RU 486", "+ RU 486", "+ RU 486 Homogenate Fed"], "range": ["white", "black", "#e41e26"]},
       "legend": {"orient": "none", "legendX": 283, "legendY": 431, "title": null, "symbolType": "M-1,0L-0.5,0M0.5,0L1,0M-0.5,0A0.5,0.5,0,1,0,0.5,0A0.5,0.5,0,1,0,-0.5,0Z", "symbolSize": 140, "symbolStrokeWidth": 1.2, "labelFontSize": 9.5, "labelFont": "Liberation Sans", "labelColor": "black", "rowPadding": 0, "labelOffset": 4}},
      "stroke": {"field": "s", "type": "nominal", "scale": {"domain": ["- RU 486", "+ RU 486", "+ RU 486 Homogenate Fed"], "range": ["black", "black", "#e41e26"]}}}}
   ]}
 ], "spacing": 59, "bounds": "flush"}
 ], "spacing": 23}
],
"spacing": 25
}
